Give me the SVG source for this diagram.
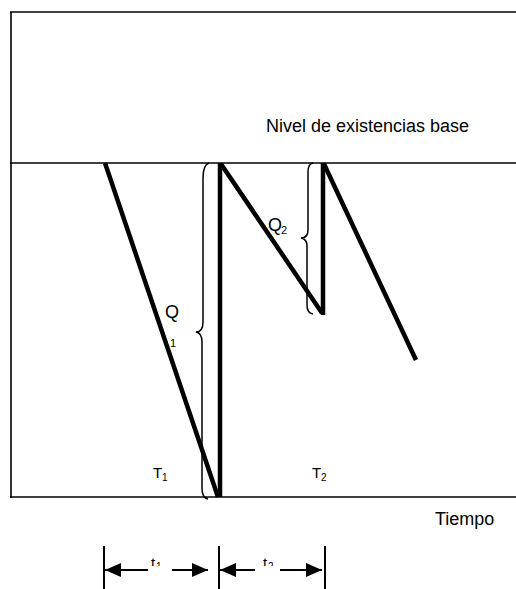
<svg xmlns="http://www.w3.org/2000/svg" width="516" height="589" viewBox="0 0 516 589">
<style>
.t{font-family:"Liberation Sans",Arial,sans-serif;fill:#000}
.ax{stroke:#000;fill:none;stroke-width:1.6}
.saw{stroke:#000;fill:none;stroke-width:4.5;stroke-linejoin:miter}
.br{stroke:#000;fill:none;stroke-width:1.5}
.dim{stroke:#000;fill:none;stroke-width:2}
</style>
<defs>
<marker id="ah" viewBox="0 0 16 14" refX="16" refY="7" markerWidth="16" markerHeight="14" markerUnits="userSpaceOnUse" orient="auto-start-reverse">
<path d="M0,0 L16,7 L0,14 Z" fill="#000"/>
</marker>
<clipPath id="tc"><rect x="0" y="540" width="516" height="26"/></clipPath>
</defs>
<rect width="516" height="589" fill="#fff"/>
<g id="axes">
<line class="ax" x1="11" y1="12" x2="11" y2="498" stroke-width="2"/>
<line class="ax" x1="10" y1="12" x2="516" y2="12"/>
<line class="ax" x1="10" y1="163" x2="516" y2="163"/>
<line class="ax" x1="10" y1="497" x2="516" y2="497"/>
</g>
<g id="sawtooth">
<path class="saw" d="M105,163 L218,497"/>
<path class="saw" d="M220,163 L220,497"/>
<path class="saw" d="M221,164 L322,313"/>
<path class="saw" d="M323,163 L323,315"/>
<path class="saw" d="M324,164 L416,360"/>
</g>
<g id="braces">
<path class="br" d="M209,163 Q203,165 203,178 L203,322 Q203,332 196,332 Q202,333 202,342 L202,488 Q202,498 208,499"/>
<path class="br" d="M313,163 Q308,164 308,172 L308,230 Q308,238 301,238 Q307,239 307,246 L307,305 Q307,313 313,314"/>
</g>
<g id="labels">
<text class="t" x="266" y="132" font-size="18">Nivel de existencias base</text>
<text class="t" x="165" y="318" font-size="18">Q</text>
<text class="t" x="170" y="347" font-size="11">1</text>
<text class="t" x="268" y="231" font-size="18">Q</text>
<text class="t" x="281" y="234" font-size="11">2</text>
<text class="t" x="153" y="478" font-size="15">T</text>
<text class="t" x="162" y="481" font-size="10">1</text>
<text class="t" x="312" y="478" font-size="15">T</text>
<text class="t" x="321" y="481" font-size="10">2</text>
<text class="t" x="435" y="525" font-size="18">Tiempo</text>
</g>
<g id="dimensions">
<line class="dim" x1="104" y1="546" x2="104" y2="589"/>
<line class="dim" x1="219" y1="546" x2="219" y2="589"/>
<line class="dim" x1="325" y1="546" x2="325" y2="589"/>
<line class="dim" x1="148" y1="570" x2="105" y2="570" marker-end="url(#ah)"/>
<line class="dim" x1="172" y1="570" x2="208" y2="570" marker-end="url(#ah)"/>
<line class="dim" x1="255" y1="570" x2="220" y2="570" marker-end="url(#ah)"/>
<line class="dim" x1="280" y1="570" x2="322" y2="570" marker-end="url(#ah)"/>
<g clip-path="url(#tc)">
<text class="t" x="151" y="568" font-size="15">t</text>
<text class="t" x="156" y="570" font-size="10">1</text>
<text class="t" x="263" y="568" font-size="15">t</text>
<text class="t" x="268" y="570" font-size="10">2</text>
</g>
</g>
</svg>
